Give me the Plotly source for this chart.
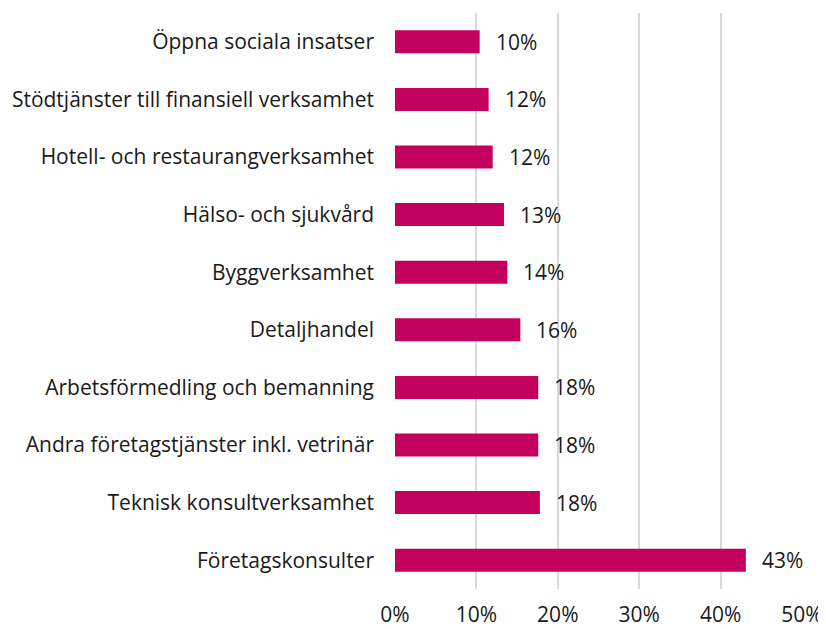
import plotly.graph_objects as go

categories = [
    "Öppna sociala insatser",
    "Stödtjänster till finansiell verksamhet",
    "Hotell- och restaurangverksamhet",
    "Hälso- och sjukvård",
    "Byggverksamhet",
    "Detaljhandel",
    "Arbetsförmedling och bemanning",
    "Andra företagstjänster inkl. vetrinär",
    "Teknisk konsultverksamhet",
    "Företagskonsulter",
]
values = [0.104, 0.115, 0.120, 0.134, 0.138, 0.154, 0.176, 0.176, 0.178, 0.431]
labels = ["10%", "12%", "12%", "13%", "14%", "16%", "18%", "18%", "18%", "43%"]
x_ticks = [0, 0.1, 0.2, 0.3, 0.4, 0.5]
x_tick_labels = ["0%", "10%", "20%", "30%", "40%", "50%"]

font_family = "Open Sans, Noto Sans, sans-serif"

fig = go.Figure()
fig.add_trace(go.Bar(
    x=values,
    y=categories,
    orientation="h",
    marker=dict(color="#C4005F", line=dict(width=0)),
    hoverinfo="skip",
))

for v, c, t in zip(values, categories, labels):
    fig.add_annotation(x=v, y=c, text=t, showarrow=False, xanchor="left",
                       xshift=14, font=dict(size=21, color="#1a1a1a", family=font_family))

# page body has an 8px margin, so the figure is sized/offset to compensate
fig.update_layout(
    width=818, height=621,
    margin=dict(l=387, r=24, t=5, b=40),
    plot_bgcolor="white", paper_bgcolor="white",
    bargap=0.6,
    showlegend=False,
    font=dict(family=font_family, size=21, color="#1a1a1a"),
)
fig.update_xaxes(
    range=[0, 0.5], tickvals=x_ticks, ticktext=x_tick_labels,
    showgrid=True, gridcolor="#d9d9d9", gridwidth=2,
    zeroline=False, showline=False, ticks="", ticklabelstandoff=11,
    automargin=False,
)
fig.update_yaxes(
    autorange="reversed", showgrid=False, zeroline=False, showline=False,
    ticks="", ticklabelstandoff=20, automargin=False,
)

fig.write_html("out.html")
